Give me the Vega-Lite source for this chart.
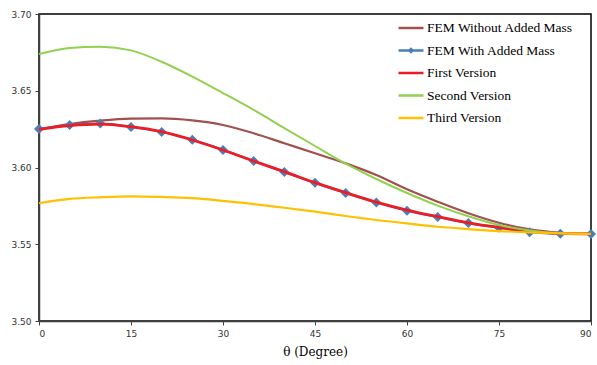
{
  "$schema": "https://vega.github.io/schema/vega-lite/v6.json",
  "width": 552,
  "height": 307,
  "autosize": {"type": "none"},
  "padding": {"left": 39, "top": 14, "right": 6, "bottom": 44},
  "background": "white",
  "config": {
    "view": {"stroke": "#000000", "strokeWidth": 1.5},
    "axis": {"grid": false, "domainColor": "#404040", "domainWidth": 1.5, "tickColor": "#404040", "tickSize": 4, "labelFont": "DejaVu Sans", "labelFontSize": 9, "labelColor": "#333333", "labelPadding": 4}
  },
  "data": {"values": [
    {"theta": 0, "value": 3.6249, "series": "FEM Without Added Mass"},
    {"theta": 5, "value": 3.6283, "series": "FEM Without Added Mass"},
    {"theta": 10, "value": 3.6305, "series": "FEM Without Added Mass"},
    {"theta": 15, "value": 3.6318, "series": "FEM Without Added Mass"},
    {"theta": 20, "value": 3.632, "series": "FEM Without Added Mass"},
    {"theta": 25, "value": 3.6307, "series": "FEM Without Added Mass"},
    {"theta": 30, "value": 3.6277, "series": "FEM Without Added Mass"},
    {"theta": 35, "value": 3.6223, "series": "FEM Without Added Mass"},
    {"theta": 40, "value": 3.6158, "series": "FEM Without Added Mass"},
    {"theta": 45, "value": 3.6093, "series": "FEM Without Added Mass"},
    {"theta": 50, "value": 3.6027, "series": "FEM Without Added Mass"},
    {"theta": 55, "value": 3.5951, "series": "FEM Without Added Mass"},
    {"theta": 60, "value": 3.5858, "series": "FEM Without Added Mass"},
    {"theta": 65, "value": 3.5777, "series": "FEM Without Added Mass"},
    {"theta": 70, "value": 3.5702, "series": "FEM Without Added Mass"},
    {"theta": 75, "value": 3.564, "series": "FEM Without Added Mass"},
    {"theta": 80, "value": 3.5597, "series": "FEM Without Added Mass"},
    {"theta": 85, "value": 3.5575, "series": "FEM Without Added Mass"},
    {"theta": 90, "value": 3.5567, "series": "FEM Without Added Mass"},
    {"theta": 0, "value": 3.6251, "series": "FEM With Added Mass"},
    {"theta": 5, "value": 3.6277, "series": "FEM With Added Mass"},
    {"theta": 10, "value": 3.6286, "series": "FEM With Added Mass"},
    {"theta": 15, "value": 3.6264, "series": "FEM With Added Mass"},
    {"theta": 20, "value": 3.6231, "series": "FEM With Added Mass"},
    {"theta": 25, "value": 3.618, "series": "FEM With Added Mass"},
    {"theta": 30, "value": 3.6114, "series": "FEM With Added Mass"},
    {"theta": 35, "value": 3.6042, "series": "FEM With Added Mass"},
    {"theta": 40, "value": 3.597, "series": "FEM With Added Mass"},
    {"theta": 45, "value": 3.59, "series": "FEM With Added Mass"},
    {"theta": 50, "value": 3.5834, "series": "FEM With Added Mass"},
    {"theta": 55, "value": 3.5772, "series": "FEM With Added Mass"},
    {"theta": 60, "value": 3.5719, "series": "FEM With Added Mass"},
    {"theta": 65, "value": 3.5678, "series": "FEM With Added Mass"},
    {"theta": 70, "value": 3.5638, "series": "FEM With Added Mass"},
    {"theta": 75, "value": 3.5608, "series": "FEM With Added Mass"},
    {"theta": 80, "value": 3.5578, "series": "FEM With Added Mass"},
    {"theta": 85, "value": 3.5568, "series": "FEM With Added Mass"},
    {"theta": 90, "value": 3.5567, "series": "FEM With Added Mass"},
    {"theta": 0, "value": 3.6249, "series": "First Version"},
    {"theta": 5, "value": 3.6273, "series": "First Version"},
    {"theta": 10, "value": 3.6283, "series": "First Version"},
    {"theta": 15, "value": 3.6266, "series": "First Version"},
    {"theta": 20, "value": 3.6233, "series": "First Version"},
    {"theta": 25, "value": 3.6179, "series": "First Version"},
    {"theta": 30, "value": 3.6114, "series": "First Version"},
    {"theta": 35, "value": 3.6042, "series": "First Version"},
    {"theta": 40, "value": 3.5973, "series": "First Version"},
    {"theta": 45, "value": 3.5901, "series": "First Version"},
    {"theta": 50, "value": 3.5836, "series": "First Version"},
    {"theta": 55, "value": 3.5775, "series": "First Version"},
    {"theta": 60, "value": 3.5723, "series": "First Version"},
    {"theta": 65, "value": 3.568, "series": "First Version"},
    {"theta": 70, "value": 3.564, "series": "First Version"},
    {"theta": 75, "value": 3.561, "series": "First Version"},
    {"theta": 80, "value": 3.5586, "series": "First Version"},
    {"theta": 85, "value": 3.5571, "series": "First Version"},
    {"theta": 90, "value": 3.5567, "series": "First Version"},
    {"theta": 0, "value": 3.674, "series": "Second Version"},
    {"theta": 5, "value": 3.6779, "series": "Second Version"},
    {"theta": 10, "value": 3.6787, "series": "Second Version"},
    {"theta": 15, "value": 3.6763, "series": "Second Version"},
    {"theta": 20, "value": 3.6689, "series": "Second Version"},
    {"theta": 25, "value": 3.6592, "series": "Second Version"},
    {"theta": 30, "value": 3.6485, "series": "Second Version"},
    {"theta": 35, "value": 3.6375, "series": "Second Version"},
    {"theta": 40, "value": 3.6257, "series": "Second Version"},
    {"theta": 45, "value": 3.614, "series": "Second Version"},
    {"theta": 50, "value": 3.6025, "series": "Second Version"},
    {"theta": 55, "value": 3.5925, "series": "Second Version"},
    {"theta": 60, "value": 3.5834, "series": "Second Version"},
    {"theta": 65, "value": 3.5752, "series": "Second Version"},
    {"theta": 70, "value": 3.5682, "series": "Second Version"},
    {"theta": 75, "value": 3.5625, "series": "Second Version"},
    {"theta": 80, "value": 3.559, "series": "Second Version"},
    {"theta": 85, "value": 3.5572, "series": "Second Version"},
    {"theta": 90, "value": 3.5567, "series": "Second Version"},
    {"theta": 0, "value": 3.5767, "series": "Third Version"},
    {"theta": 5, "value": 3.5795, "series": "Third Version"},
    {"theta": 10, "value": 3.5806, "series": "Third Version"},
    {"theta": 15, "value": 3.5812, "series": "Third Version"},
    {"theta": 20, "value": 3.5808, "series": "Third Version"},
    {"theta": 25, "value": 3.58, "series": "Third Version"},
    {"theta": 30, "value": 3.5782, "series": "Third Version"},
    {"theta": 35, "value": 3.5762, "series": "Third Version"},
    {"theta": 40, "value": 3.5738, "series": "Third Version"},
    {"theta": 45, "value": 3.5712, "series": "Third Version"},
    {"theta": 50, "value": 3.5684, "series": "Third Version"},
    {"theta": 55, "value": 3.5658, "series": "Third Version"},
    {"theta": 60, "value": 3.5636, "series": "Third Version"},
    {"theta": 65, "value": 3.5614, "series": "Third Version"},
    {"theta": 70, "value": 3.5599, "series": "Third Version"},
    {"theta": 75, "value": 3.5586, "series": "Third Version"},
    {"theta": 80, "value": 3.5577, "series": "Third Version"},
    {"theta": 85, "value": 3.5571, "series": "Third Version"},
    {"theta": 90, "value": 3.5567, "series": "Third Version"}
  ]},
  "encoding": {
    "x": {"field": "theta", "type": "quantitative", "scale": {"domain": [0, 90], "nice": false}, "axis": {"values": [0, 15, 30, 45, 60, 75, 90], "title": "θ (Degree)", "titleFont": "DejaVu Serif", "titleFontSize": 12, "titleFontWeight": "normal", "titleColor": "#000000", "titlePadding": 8}},
    "y": {"field": "value", "type": "quantitative", "scale": {"domain": [3.5, 3.7], "nice": false, "zero": false}, "axis": {"values": [3.5, 3.55, 3.6, 3.65, 3.7], "format": ".2f", "title": null}},
    "color": {"field": "series", "type": "nominal", "scale": {"domain": ["FEM Without Added Mass", "FEM With Added Mass", "First Version", "Second Version", "Third Version"], "range": ["#a0504d", "#4a7ebb", "#ee1c25", "#92d050", "#ffc000"]},
      "legend": {"orient": "none", "legendX": 358, "legendY": 0, "title": null, "labelFont": "Liberation Serif", "labelFontSize": 13.5, "labelColor": "#000000", "symbolSize": 625, "rowPadding": 1.5, "labelOffset": 2, "padding": 0,
        "encode": {"symbols": {"update": {
        "shape": {"signal": "datum.value === 'FEM With Added Mass' ? 'M-1,0L1,0M-0.12,0L0,-0.12L0.12,0L0,0.12Z' : 'M-1,0L1,0'"},
        "fill": {"scale": "color", "field": "value"},
        "stroke": {"scale": "color", "field": "value"},
        "strokeWidth": {"value": 2.5},
        "opacity": {"value": 1}
      }}}}}
  },
  "layer": [
    {"transform": [{"filter": "datum.series === 'FEM Without Added Mass'"}], "mark": {"type": "line", "interpolate": "monotone", "strokeWidth": 2.2}},
    {"transform": [{"filter": "datum.series === 'FEM With Added Mass'"}], "mark": {"type": "line", "interpolate": "monotone", "strokeWidth": 2.2}},
    {"transform": [{"filter": "datum.series === 'FEM With Added Mass'"}], "mark": {"type": "point", "shape": "diamond", "size": 100, "filled": true, "opacity": 1}},
    {"transform": [{"filter": "datum.series === 'First Version'"}], "mark": {"type": "line", "interpolate": "monotone", "strokeWidth": 2.8}},
    {"transform": [{"filter": "datum.series === 'Second Version'"}], "mark": {"type": "line", "interpolate": "monotone", "strokeWidth": 2}},
    {"transform": [{"filter": "datum.series === 'Third Version'"}], "mark": {"type": "line", "interpolate": "monotone", "strokeWidth": 2.2}}
  ]
}
